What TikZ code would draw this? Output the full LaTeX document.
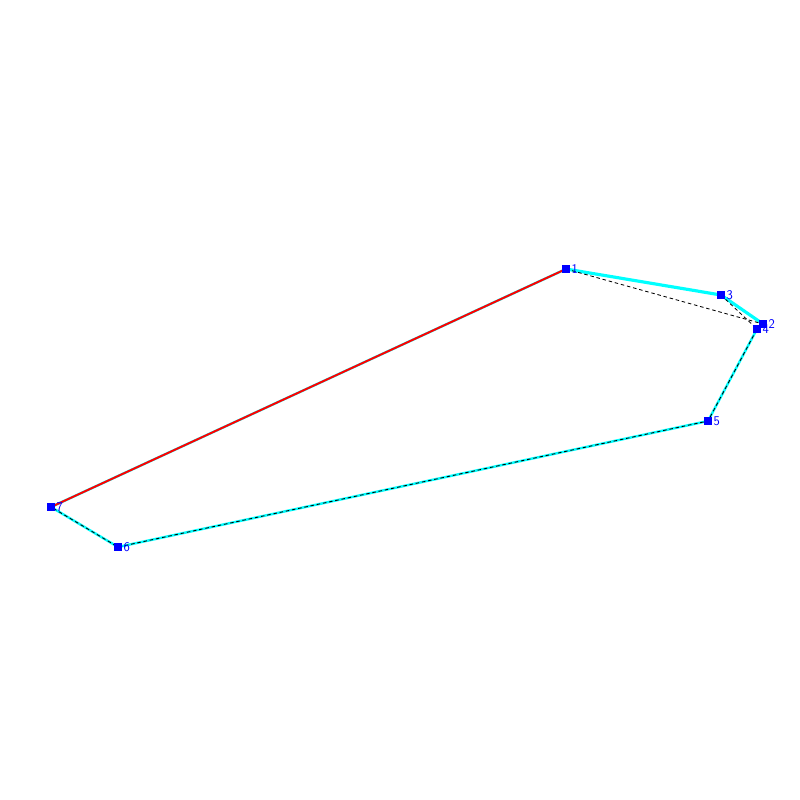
\documentclass[tikz,border=0pt]{standalone}
\usepackage{tikz}
\usetikzlibrary{positioning}
\definecolor{lineCyan}{RGB}{0,255,255}
\definecolor{ptBlue}{RGB}{0,0,255}
\definecolor{edgeRed}{RGB}{255,0,0}

\begin{document}
\begin{tikzpicture}[x=0.05cm,y=-0.05cm]
\tikzstyle{every node}+=[inner sep=0pt]
\tikzstyle{pt}=[draw=none,fill=ptBlue,minimum size=11pt]
\tikzstyle{num}=[text=ptBlue,font=\sffamily\fontsize{19}{19}\selectfont]
\useasboundingbox (0,0) rectangle (800,800);
\node [pt] (p1) at (566,269) {};
\node [pt] (p2) at (763,324) {};
\node [pt] (p3) at (721,295) {};
\node [pt] (p4) at (757,329) {};
\node [pt] (p5) at (708,421) {};
\node [pt] (p6) at (118,547) {};
\node [pt] (p7) at (51,507) {};
\draw [lineCyan,line width=4.5pt] (p1.center) -- (p3.center) -- (p2.center);
\draw [lineCyan,line width=3.5pt] (p2.center) -- (p4.center) -- (p5.center) -- (p6.center) -- (p7.center) -- (p1.center);
\draw [black,dash pattern=on 5pt off 4pt,line width=1.2pt] (p1.center) -- (p2.center);
\draw [black,dash pattern=on 5pt off 4pt,line width=1.2pt] (p3.center) -- (p4.center) -- (p5.center) -- (p6.center) -- (p7.center);
\draw [edgeRed,line width=2.8pt] (p7.center) -- (p1.center);
\node [pt] at (p1) {};
\node [pt] at (p2) {};
\node [pt] at (p3) {};
\node [pt] at (p4) {};
\node [pt] at (p5) {};
\node [pt] at (p6) {};
\node [pt] at (p7) {};
\node [num,right=2pt of p1] {1};
\node [num,right=2pt of p2] {2};
\node [num,right=2pt of p3] {3};
\node [num,right=2pt of p4] {4};
\node [num,right=2pt of p5] {5};
\node [num,right=2pt of p6] {6};
\node [num,right=2pt of p7] {7};
\end{tikzpicture}
\end{document}
